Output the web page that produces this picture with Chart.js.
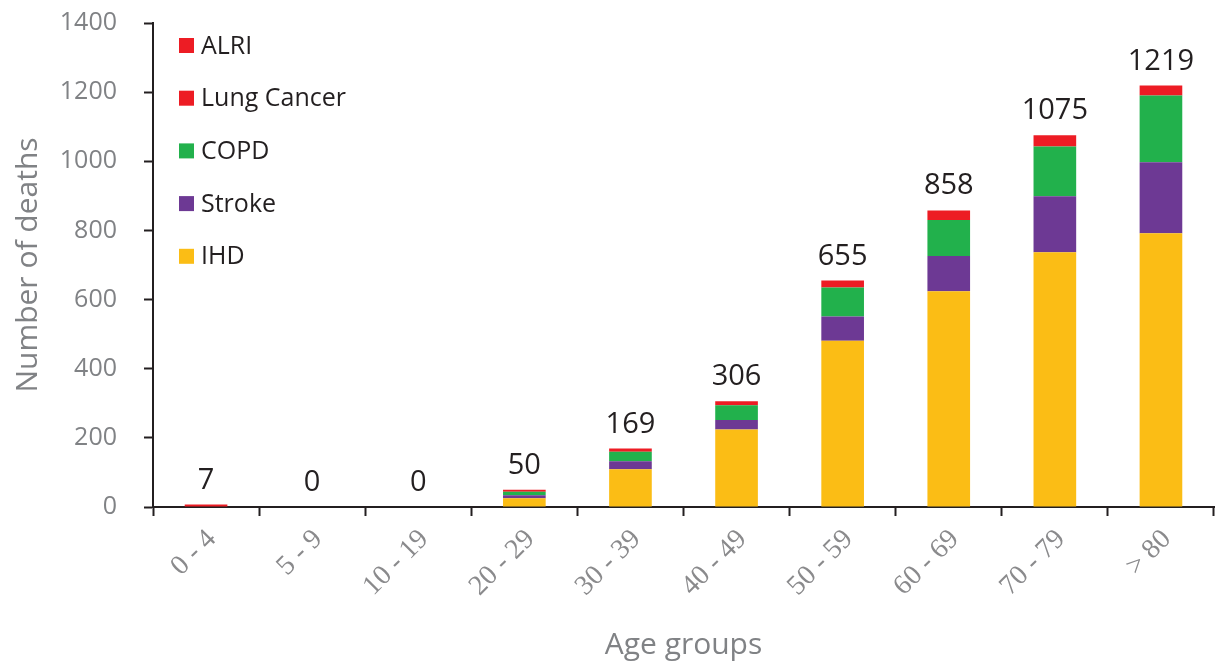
<!DOCTYPE html>
<html>
<head>
<meta charset="utf-8">
<title>Number of deaths by age group</title>
<script src="https://cdn.jsdelivr.net/npm/chart.js@4/dist/chart.umd.min.js"></script>
<style>
  html, body { margin: 0; padding: 0; background: #fff; }
  #wrap { width: 1217px; height: 668px; position: relative; }
</style>
</head>
<body>
<div id="wrap"><canvas id="deaths"></canvas></div>
<script>
// ── Data ──────────────────────────────────────────────
const ageGroups  = ['0 - 4', '5 - 9', '10 - 19', '20 - 29', '30 - 39', '40 - 49', '50 - 59', '60 - 69', '70 - 79', '> 80'];
const ihd        = [0, 0, 0, 25, 109, 224, 481, 624, 737, 792];
const stroke     = [0, 0, 0,  9,  23,  28,  70, 102, 162, 205];
const copd       = [0, 0, 0, 10,  28,  42,  84, 104, 144, 193];
const lungCancer = [0, 0, 0,  6,   9,  12,  20,  28,  32,  29];
const alri       = [7, 0, 0,  0,   0,   0,   0,   0,   0,   0];
const yTicks     = [0, 200, 400, 600, 800, 1000, 1200, 1400];

const INK  = '#231f20';
const GREY = '#808285';

Chart.defaults.font.family = "'Open Sans', sans-serif";

// totals written above each stack
const totalsPlugin = {
    id: 'totals',
    afterDatasetsDraw(chart) {
        const { ctx, scales: { y } } = chart;
        const meta = chart.getDatasetMeta(0);
        ctx.save();
        ctx.font = "29px 'Open Sans', sans-serif";
        ctx.fillStyle = INK;
        ctx.textAlign = 'center';
        ctx.textBaseline = 'alphabetic';
        ageGroups.forEach((_, i) => {
            const total = chart.data.datasets.reduce((s, ds) => s + ds.data[i], 0);
            const x = meta.data[i].x;
            ctx.fillText(String(total), x, y.getPixelForValue(total) - 16);
        });
        ctx.restore();
    }
};

// legend drawn inside the plot, top series first
const insideLegend = {
    id: 'insideLegend',
    afterDraw(chart) {
        const { ctx, chartArea } = chart;
        const items = chart.data.datasets.slice().reverse();
        ctx.save();
        ctx.font = "25px 'Open Sans', sans-serif";
        ctx.textBaseline = 'middle';
        ctx.textAlign = 'left';
        items.forEach((ds, i) => {
            const cy = chartArea.top + 22.5 + i * 52.7;
            ctx.fillStyle = ds.backgroundColor;
            ctx.fillRect(chartArea.left + 26, cy - 7.5, 15, 15);
            ctx.fillStyle = INK;
            ctx.fillText(ds.label, chartArea.left + 48, cy + 1);
        });
        ctx.restore();
    }
};

const bar = (label, data, color) => ({
    label, data,
    backgroundColor: color,
    borderWidth: 0,
    categoryPercentage: 1,
    barPercentage: 0.402,
});

new Chart(document.getElementById('deaths'), {
    type: 'bar',
    data: {
        labels: ageGroups,
        datasets: [
            bar('IHD',         ihd,        '#fbbd15'),
            bar('Stroke',      stroke,     '#6d3994'),
            bar('COPD',        copd,       '#22b14c'),
            bar('Lung Cancer', lungCancer, '#ed1c24'),
            bar('ALRI',        alri,       '#ed1c24'),
        ],
    },
    options: {
        responsive: true,
        maintainAspectRatio: false,
        animation: false,
        layout: { padding: { top: 23, right: 3, bottom: 0, left: 0 } },
        plugins: {
            legend: { display: false },
            tooltip: { enabled: false },
        },
        scales: {
            x: {
                stacked: true,
                afterFit: s => { s.height = 161; },
                border: { color: INK, width: 2 },
                grid: {
                    drawOnChartArea: false,
                    drawTicks: true,
                    tickLength: 9,
                    tickWidth: 2,
                    tickColor: INK,
                },
                ticks: {
                    minRotation: 45,
                    maxRotation: 45,
                    padding: 7,
                    labelOffset: 6,
                    color: '#8a8a8c',
                    font: { family: "'Liberation Serif', serif", size: 28 },
                },
                title: {
                    display: true,
                    text: 'Age groups',
                    color: GREY,
                    font: { size: 30 },
                    padding: { top: 0, bottom: 5 },
                },
            },
            y: {
                stacked: true,
                min: 0,
                max: 1400,
                // fixed axis width; the wide label gap should not push the plot down
                afterFit: s => {
                    s.width = 153;
                    s.paddingTop = 0;
                    s.paddingBottom = 0;
                },
                afterBuildTicks: s => { s.ticks = yTicks.map(v => ({ value: v })); },
                border: { color: INK, width: 2 },
                grid: {
                    drawOnChartArea: false,
                    drawTicks: true,
                    tickLength: 9,
                    tickWidth: 2,
                    tickColor: INK,
                },
                ticks: {
                    padding: 27,
                    color: GREY,
                    font: { size: 25 },
                    callback: v => String(v),
                },
                title: {
                    display: true,
                    text: 'Number of deaths',
                    color: GREY,
                    font: { size: 30 },
                    padding: { top: 10, bottom: 0 },
                },
            },
        },
    },
    plugins: [totalsPlugin, insideLegend],
});
</script>
</body>
</html>
